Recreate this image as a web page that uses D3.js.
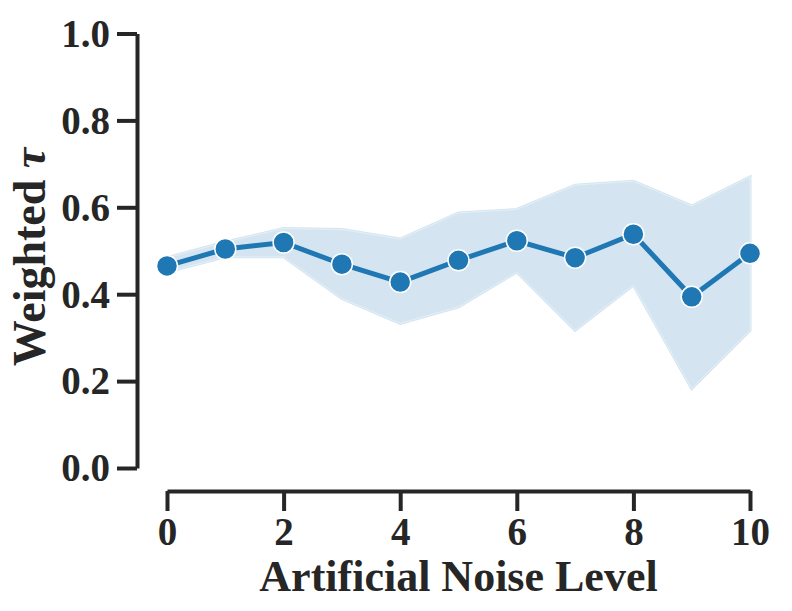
<!DOCTYPE html>
<html>
<head>
<meta charset="utf-8">
<script src="https://cdn.jsdelivr.net/npm/d3@7"></script>
<style>
    body { margin: 0; background: white; }
    text { font-family: "Liberation Serif", "Times New Roman", serif; font-weight: bold; fill: #262626; }
</style>
</head>
<body>
<div id="chartContainer"></div>
<script>
var width = 792, height = 611;

// data
var noiseLevels = [0, 1, 2, 3, 4, 5, 6, 7, 8, 9, 10];
var meanTau = [0.465, 0.504, 0.519, 0.469, 0.428, 0.478, 0.523, 0.484, 0.538, 0.394, 0.494];
var upperTau = [0.484, 0.520, 0.551, 0.549, 0.527, 0.587, 0.595, 0.651, 0.660, 0.603, 0.670];
var lowerTau = [0.451, 0.486, 0.486, 0.390, 0.333, 0.371, 0.451, 0.317, 0.421, 0.183, 0.317];
var xTicks = [0, 2, 4, 6, 8, 10];
var yTicks = [0.0, 0.2, 0.4, 0.6, 0.8, 1.0];

var lineColor = '#1f77b4';
var bandColor = '#d4e5f1';
var axisColor = '#262626';

var data = noiseLevels.map(function (n, i) {
    return { level: n, mean: meanTau[i], upper: upperTau[i], lower: lowerTau[i] };
});

const svg = d3.select('#chartContainer')
    .append('svg')
    .attr('width', width)
    .attr('height', height);

const x = d3.scaleLinear().domain([0, 10]).range([167, 750]);
const y = d3.scaleLinear().domain([0, 1]).range([468, 33.5]);

// x axis, offset below the plot
let xAxis = svg.append('g')
    .attr('transform', 'translate(0, 491)')
    .call(d3.axisBottom(x).tickValues(xTicks).tickFormat(d3.format('d'))
        .tickSize(20).tickSizeOuter(0).tickPadding(8));

// y axis, offset left of the plot
let yAxis = svg.append('g')
    .attr('transform', 'translate(137, 0)')
    .call(d3.axisLeft(y).tickValues(yTicks).tickFormat(d3.format('.1f'))
        .tickSize(20).tickSizeOuter(0).tickPadding(7));

[xAxis, yAxis].forEach(function (g) {
    g.select('.domain').attr('stroke', axisColor).attr('stroke-width', 4);
    g.selectAll('.tick line').attr('stroke', axisColor).attr('stroke-width', 4);
    g.selectAll('.tick text')
        .attr('fill', axisColor)
        .style('font-size', '39px')
        .style('font-family', '"Liberation Serif", serif')
        .style('font-weight', 'bold');
});
xAxis.selectAll('.tick text').attr('y', 26).attr('dy', '0.71em');
yAxis.selectAll('.tick text').attr('dy', '0.33em');

// confidence band
let band = d3.area()
    .x(function (d) { return x(d.level) })
    .y0(function (d) { return y(d.lower) })
    .y1(function (d) { return y(d.upper) });

svg.append('path')
    .datum(data)
    .attr('d', band)
    .attr('fill', bandColor)
    .attr('stroke', bandColor)
    .attr('stroke-width', 3)
    .attr('stroke-linejoin', 'miter');

svg.append('path')
    .datum(data)
    .attr('d', band)
    .attr('fill', 'none')
    .attr('stroke', 'white')
    .attr('stroke-opacity', 0.5)
    .attr('stroke-width', 0.8);

// mean line
let meanLine = d3.line()
    .x(function (d) { return x(d.level) })
    .y(function (d) { return y(d.mean) });

svg.append('path')
    .datum(data)
    .attr('d', meanLine)
    .attr('fill', 'none')
    .attr('stroke', lineColor)
    .attr('stroke-width', 5);

svg.append('g')
    .selectAll('circle')
    .data(data)
    .enter()
    .append('circle')
    .attr('cx', function (d) { return x(d.level) })
    .attr('cy', function (d) { return y(d.mean) })
    .attr('r', 10.5)
    .attr('fill', lineColor)
    .attr('stroke', 'white')
    .attr('stroke-width', 1.5);

// axis labels
svg.append('text')
    .attr('x', 458.5)
    .attr('y', 591)
    .attr('text-anchor', 'middle')
    .style('font-size', '44px')
    .text('Artificial Noise Level');

let yLabel = svg.append('text')
    .attr('transform', 'translate(45, 257) rotate(-90)')
    .attr('text-anchor', 'middle')
    .style('font-size', '46px');
yLabel.append('tspan').text('Weighted ');
yLabel.append('tspan').style('font-style', 'italic').text('τ');
</script>
</body>
</html>
